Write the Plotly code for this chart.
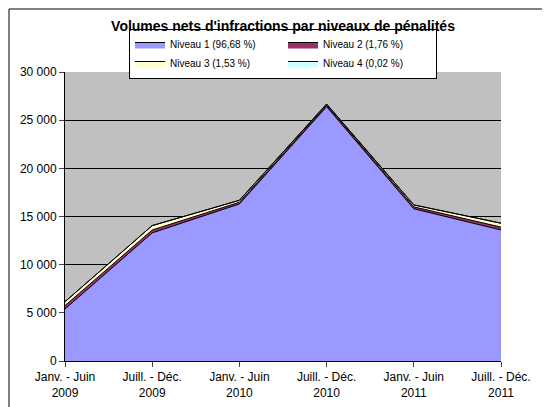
import plotly.graph_objects as go

periodes = ["Janv. - Juin<br>2009", "Juill. - Déc.<br>2009", "Janv. - Juin<br>2010",
            "Juill. - Déc.<br>2010", "Janv. - Juin<br>2011", "Juill. - Déc.<br>2011"]
niveau1 = [5400, 13300, 16300, 26400, 15800, 13600]
niveau2 = [350, 300, 180, 150, 200, 300]
niveau3 = [400, 450, 200, 120, 200, 400]
niveau4 = [10, 10, 5, 5, 5, 5]

noms = ["Niveau 1 (96,68 %)", "Niveau 2 (1,76 %)", "Niveau 3 (1,53 %)", "Niveau 4 (0,02 %)"]
couleurs = ["#9999FF", "#993366", "#FFFFCC", "#CCFFFF"]

fig = go.Figure()
for nom, vals, c in zip(noms, [niveau1, niveau2, niveau3, niveau4], couleurs):
    fig.add_trace(go.Scatter(x=list(range(len(periodes))), y=vals, name=nom, stackgroup="a",
                             mode="lines", line=dict(color="black", width=1), fillcolor=c))

W, H = 436, 289
fig.update_layout(
    width=550, height=407,
    margin=dict(l=57, r=57, t=64, b=54, autoexpand=False),
    paper_bgcolor="white", plot_bgcolor="#C0C0C0",
    font=dict(family="Liberation Sans, Arial", size=12, color="black"),
    title=dict(text="<b>Volumes nets d'infractions par niveaux de pénalités</b>",
               x=0.5, y=0.955, xanchor="center", yanchor="middle", font=dict(size=14)),
    legend=dict(orientation="h", x=0.5, xanchor="center", y=1 + 18 / H, yanchor="middle",
                bordercolor="black", borderwidth=1, font=dict(size=10),
                traceorder="normal", itemwidth=30, entrywidth=108, entrywidthmode="pixels",
                tracegroupgap=0),
    showlegend=True,
    xaxis=dict(tickvals=list(range(len(periodes))), ticktext=periodes, range=[0, 5],
               showgrid=False, showline=True, linecolor="black", ticks="outside",
               tickfont=dict(size=12), zeroline=False, automargin=False),
    yaxis=dict(range=[0, 30000], dtick=5000, tickformat=",d",
               showgrid=True, gridcolor="black", showline=True, linecolor="black",
               ticks="outside", zeroline=False, tickfont=dict(size=12), automargin=False),
    separators=", ",
    shapes=[dict(type="rect", xref="paper", yref="paper",
                 x0=-56 / W, x1=1 + 56 / W, y0=-53 / H, y1=1 + 63 / H,
                 line=dict(color="black", width=1))],
)
fig.write_html("out.html")
